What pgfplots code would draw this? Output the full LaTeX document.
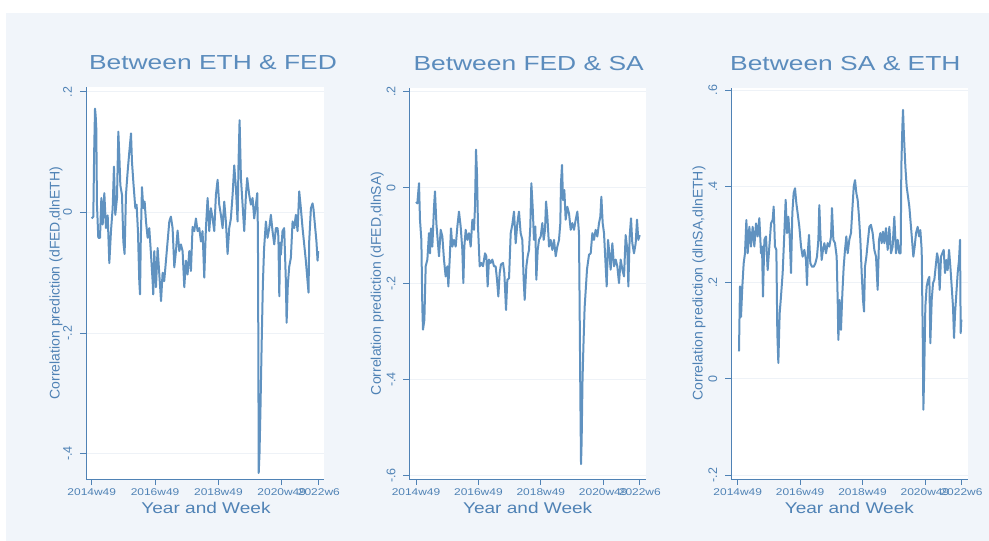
\documentclass[border=0pt]{standalone}
\usepackage{pgfplots}
\pgfplotsset{compat=1.18}
\usepackage{pgfplotstable}
\usepackage{fontspec}
\setmainfont{Liberation Sans}
\newfontfamily\titlefont{Liberation Sans}[FakeStretch=1.3]
\newfontfamily\wfont{Liberation Sans}[FakeStretch=1.22]
\definecolor{bgc}{HTML}{F1F5FA}
\definecolor{linec}{HTML}{6092C0}
\definecolor{titc}{HTML}{5B8CBD}
\definecolor{axc}{HTML}{4F82B5}
\definecolor{gridc}{HTML}{EEF2F7}

\pgfplotstableread{
w v
0 -0.01
2.6 -0.007
4 0.10
5.4 0.172
6.5 0.16
7.5 0.139
8.6 0.013
10.8 -0.042
13.6 -0.042
15.8 0.024
18 -0.02
20.7 0.032
23.4 -0.026
26.2 -0.005
28.9 -0.084
31.6 -0.031
34.4 0.007
36.5 0.076
38.7 -0.004
41.5 0.024
43.7 0.134
45.3 0.095
47 0.045
49.7 0.029
51.9 -0.048
54 -0.069
56.2 0.029
59 0.068
61.7 0.1
64.5 0.131
66.1 0.084
68.3 0.051
71.6 0.007
73.7 0.013
75.9 -0.031
78.1 -0.114
79.3 -0.136
80.5 -0.05
82.5 0.042
84.7 0.007
86.9 0.018
89.1 -0.015
91.8 -0.042
94.5 -0.026
97.3 -0.069
100 -0.114
101 -0.136
102.7 -0.064
105.5 -0.124
108.2 -0.059
111 -0.103
113.8 -0.147
116.4 -0.1
119 -0.114
121.9 -0.08
124.6 -0.048
127.4 -0.015
130 -0.007
132.8 -0.026
135.6 -0.091
138.3 -0.064
141 -0.03
143.8 -0.064
146.5 -0.053
149.2 -0.064
152 -0.124
154.7 -0.08
157.4 -0.103
160.2 -0.064
162.9 -0.097
165.6 -0.024
168.4 -0.031
171.1 -0.01
173.8 -0.031
176.6 -0.026
179.3 -0.048
182 -0.031
184.8 -0.108
187.5 -0.026
190.3 0.024
193 -0.031
195.7 0.007
198.5 -0.01
201.2 -0.031
203.9 0.029
206.7 0.054
209.4 0.013
212.1 -0.004
214.9 -0.026
217.6 0.018
220.3 -0.015
223.1 -0.069
225.8 -0.026
228.5 -0.01
231.3 0.029
234 0.078
236.8 0.04
239.5 -0.015
241.1 0.084
242.8 0.153
245 0.057
247.7 0.013
250.4 -0.031
253.2 0.029
255.3 0.057
258.6 0.029
261.4 0.013
264.1 0.024
266.8 -0.01
269.6 0.013
271.8 0.032
272.9 -0.031
273.5 -0.2
274.2 -0.432
275.5 -0.40
277 -0.33
279 -0.22
281 -0.12
283 -0.06
286 -0.015
288.7 -0.042
291.5 -0.026
294.2 -0.004
296.9 -0.031
299.7 -0.053
302.4 -0.026
305.1 -0.026
306.5 -0.04
308 -0.139
309.5 -0.05
310.6 -0.07
313.3 -0.031
316 -0.026
318.8 -0.114
320 -0.183
322 -0.12
324.3 -0.09
327 -0.075
329.8 -0.015
332.5 -0.026
335.2 -0.004
338 -0.031
340.7 0.035
343.4 0.007
346.2 -0.026
348.9 -0.053
351.6 -0.08
354.4 -0.114
356 -0.133
357.1 -0.048
359.9 0.007
362.6 0.015
364.2 0.005
367 -0.026
369 -0.048
370.8 -0.08
371.9 -0.064
}\tabA

\pgfplotstableread{
w v
0 -0.03
2.2 -0.033
5 0.009
6.6 -0.067
8.9 -0.109
10.5 -0.248
11.6 -0.296
13.9 -0.276
16.1 -0.164
18.9 -0.15
21.6 -0.095
23.3 -0.137
25 -0.085
27.2 -0.123
30 -0.04
31.6 -0.008
33.9 -0.074
36.1 -0.109
38.3 -0.143
41.1 -0.088
43.9 -0.102
46.6 -0.15
49.4 -0.185
52.2 -0.164
53.9 -0.206
56.1 -0.15
58.3 -0.085
60.5 -0.123
63.3 -0.109
66.1 -0.123
68.9 -0.081
71.6 -0.05
74.4 -0.081
77.2 -0.13
78.9 -0.199
80.5 -0.123
82.8 -0.088
85.5 -0.109
88.3 -0.095
91.1 -0.123
93.9 -0.067
96.6 -0.088
98.3 -0.04
100 0.079
101.6 0.03
103.3 -0.081
106.1 -0.164
108.9 -0.157
111.6 -0.164
115 -0.137
117.2 -0.143
119.4 -0.206
121.6 -0.15
124.4 -0.157
127.2 -0.15
130 -0.164
132.7 -0.164
135 -0.192
137.2 -0.227
139.4 -0.178
141.6 -0.16
145 -0.157
147.2 -0.178
150 -0.255
152.2 -0.192
155 -0.189
157.8 -0.095
160.5 -0.077
163.3 -0.05
166.1 -0.116
168.9 -0.074
171.6 -0.05
174.4 -0.095
177.2 -0.109
179.4 -0.192
181.1 -0.234
183.9 -0.164
186.1 -0.143
188.3 -0.13
190.5 -0.081
192.2 0.009
194.4 -0.04
196.6 -0.109
198.9 -0.081
200.5 -0.192
202.8 -0.13
205 -0.109
207.8 -0.102
210.5 -0.074
212.8 -0.109
215 -0.088
216.7 -0.029
218.9 -0.06
221.7 -0.123
224.4 -0.109
227.2 -0.13
230 -0.109
232.8 -0.143
235.5 -0.123
238.3 -0.109
240.5 -0.074
241.6 0.009
243.3 0.047
245 -0.026
247.2 -0.005
249.4 -0.067
252.2 -0.04
255 -0.054
257.8 -0.088
260.5 -0.074
263.3 -0.088
266.1 -0.067
268.9 -0.05
271.6 -0.095
272.5 -0.22
274 -0.45
275 -0.576
276 -0.53
277.5 -0.40
279 -0.33
281 -0.25
283 -0.21
285 -0.17
288.3 -0.14
291.1 -0.137
293.9 -0.095
296.6 -0.109
299.4 -0.088
302.2 -0.102
305 -0.074
307.2 -0.06
308.9 -0.019
311.1 -0.074
313.3 -0.095
316.1 -0.164
317.8 -0.206
320 -0.109
322.2 -0.137
324.4 -0.171
327.2 -0.116
330 -0.164
332.8 -0.15
335.5 -0.164
338.3 -0.199
341.1 -0.15
343.9 -0.171
346.7 -0.185
349.4 -0.099
352.2 -0.13
353.9 -0.206
356.1 -0.102
358.3 -0.064
360.5 -0.116
363.3 -0.137
366.1 -0.116
368.3 -0.067
370.5 -0.109
372.8 -0.099
}\tabB

\pgfplotstableread{
w v
2.1 0.057
3.8 0.192
5.5 0.129
7.7 0.192
9.9 0.24
12.1 0.261
14.4 0.33
16.6 0.261
19.4 0.316
22.1 0.275
24.9 0.316
27.7 0.275
30.5 0.323
33.2 0.296
36 0.334
38.8 0.261
40.5 0.275
42.1 0.171
44.4 0.289
47.1 0.296
49.9 0.226
52.7 0.275
55.5 0.323
58.2 0.33
59.9 0.358
62.1 0.275
64.4 0.268
66 0.095
67.7 0.033
69.9 0.136
72.1 0.171
74.9 0.22
77.7 0.303
79.9 0.372
82.1 0.303
84.4 0.337
86.6 0.296
88.8 0.22
91 0.344
93.2 0.386
95.5 0.396
97.7 0.365
99.9 0.344
102.7 0.316
105.5 0.275
108.2 0.254
111 0.268
113.8 0.247
115.5 0.195
117.1 0.268
118.8 0.299
121 0.24
123.8 0.233
126.6 0.233
129.4 0.24
132.1 0.254
134.4 0.289
136 0.361
137.7 0.303
139.9 0.247
142.1 0.268
144.4 0.282
147.1 0.261
149.9 0.282
152.7 0.275
155.5 0.296
157.1 0.355
159.4 0.289
162.1 0.282
164.9 0.254
166.6 0.164
167.7 0.081
169.9 0.164
172.1 0.102
174.4 0.178
176.6 0.233
178.8 0.268
181 0.296
183.3 0.261
186 0.289
188.8 0.303
191 0.351
193.3 0.399
195.5 0.413
197.7 0.386
199.9 0.372
202.1 0.337
204.4 0.289
206.6 0.22
208.8 0.164
210.5 0.14
212.1 0.233
214.4 0.254
216.6 0.282
219.4 0.316
222.1 0.32
224.9 0.303
227.7 0.268
230.5 0.254
233.2 0.185
235.5 0.289
237.7 0.303
239.9 0.282
242.1 0.306
244.4 0.282
247.1 0.313
249.9 0.268
252.7 0.316
255.5 0.261
258.2 0.275
261 0.337
263.8 0.261
266.6 0.289
269.3 0.261
271.6 0.261
272.7 0.441
274.4 0.524
275.5 0.559
277.1 0.503
279.4 0.441
281.6 0.399
283.8 0.379
286 0.358
288.3 0.323
290.5 0.289
292.7 0.254
294.9 0.275
297.2 0.303
299.9 0.316
302.2 0.296
304.4 0.309
306.6 0.268
308.3 0.095
309.4 -0.064
311 0.026
312.7 0.15
314.9 0.192
317.2 0.206
319.4 0.212
321 0.074
323.3 0.164
325.5 0.199
327.7 0.206
329.9 0.233
332.2 0.261
334.4 0.247
336.6 0.185
338.8 0.254
341 0.261
343.3 0.268
345.5 0.22
347.7 0.247
349.9 0.226
352.2 0.268
354.4 0.233
356.6 0.192
358.8 0.15
360.5 0.085
362.2 0.136
364.4 0.178
366.6 0.22
368.8 0.247
370.5 0.289
371.6 0.095
372.7 0.123
}\tabC

\pgfplotsset{
  panel/.style={
    scale only axis, anchor=south west,
    axis background/.style={fill=white},
    axis x line*=bottom, axis y line*=left,
    axis line style={draw=axc, line width=0.8bp},
    tick align=outside, major tick length=6bp,
    every tick/.style={draw=axc, line width=0.8bp},
    xtick={0,104,208,312,373},
    xticklabels={2014w49,2016w49,2018w49,2020w49,2022w6},
    xticklabel style={font=\wfont\fontsize{9.8bp}{12bp}\selectfont, text=axc, anchor=base},
    xticklabel shift=10bp,
    yticklabel style={font=\fontsize{12.5bp}{14bp}\selectfont, text=axc, rotate=90, anchor=base},
    yticklabel shift=8bp,
    ymajorgrids, grid style={draw=gridc, line width=0.8bp},
    clip mode=individual,
    /pgf/number format/assume math mode=true,
  },
}
\tikzset{
  ser/.style={draw=linec, line width=2bp, line join=round},
  tnode/.style={font=\titlefont\fontsize{20.3bp}{24bp}\selectfont, text=titc, anchor=base},
  xlnode/.style={font=\wfont\fontsize{15.6bp}{18bp}\selectfont, text=axc, anchor=base},
  ylnode/.style={font=\fontsize{14bp}{16bp}\selectfont, text=axc, rotate=90},
}

\begin{document}
\begin{tikzpicture}
\path[use as bounding box] (0,0) rectangle (989bp,541bp);
\fill[bgc] (6bp,0) rectangle (989bp,528bp);

\begin{axis}[panel, at={(86bp,62bp)}, width=238bp, height=392bp,
  xmin=-9.4, xmax=381.4, ymin=-0.442, ymax=0.208,
  ytick={-0.4,-0.2,0,0.2}, yticklabels={-.4,-.2,0,.2}]
\addplot[ser] table {\tabA};
\node[tnode] at ([xshift=8bp,yshift=17bp]rel axis cs:0.5,1) {Between ETH \& FED};
\node[xlnode] at ([xshift=1bp,yshift=-34bp]rel axis cs:0.5,0) {Year and Week};
\node[ylnode] at ([xshift=-30bp]rel axis cs:0,0.5) {Correlation prediction (dFED,dlnETH)};
\end{axis}

\begin{axis}[panel, at={(409.3bp,62bp)}, width=236.7bp, height=391.3bp,
  xmin=-11.2, xmax=383.3, ymin=-0.607, ymax=0.208,
  ytick={-0.6,-0.4,-0.2,0,0.2}, yticklabels={-.6,-.4,-.2,0,.2}]
\addplot[ser] table {\tabB};
\node[tnode] at ([xshift=1bp,yshift=17bp]rel axis cs:0.5,1) {Between FED \& SA};
\node[xlnode] at ([yshift=-34bp]rel axis cs:0.5,0) {Year and Week};
\node[ylnode] at ([xshift=-32bp]rel axis cs:0,0.5) {Correlation prediction (dFED,dlnSA)};
\end{axis}

\begin{axis}[panel, at={(731bp,62bp)}, width=236.7bp, height=391.3bp,
  xmin=-11.2, xmax=383.3, ymin=-0.208, ymax=0.605,
  ytick={-0.2,0,0.2,0.4,0.6}, yticklabels={-.2,0,.2,.4,.6}]
\addplot[ser] table {\tabC};
\node[tnode] at ([xshift=-4bp,yshift=17bp]rel axis cs:0.5,1) {Between SA \& ETH};
\node[xlnode] at ([yshift=-34bp]rel axis cs:0.5,0) {Year and Week};
\node[ylnode] at ([xshift=-32bp]rel axis cs:0,0.5) {Correlation prediction (dlnSA,dlnETH)};
\end{axis}
\end{tikzpicture}
\end{document}
